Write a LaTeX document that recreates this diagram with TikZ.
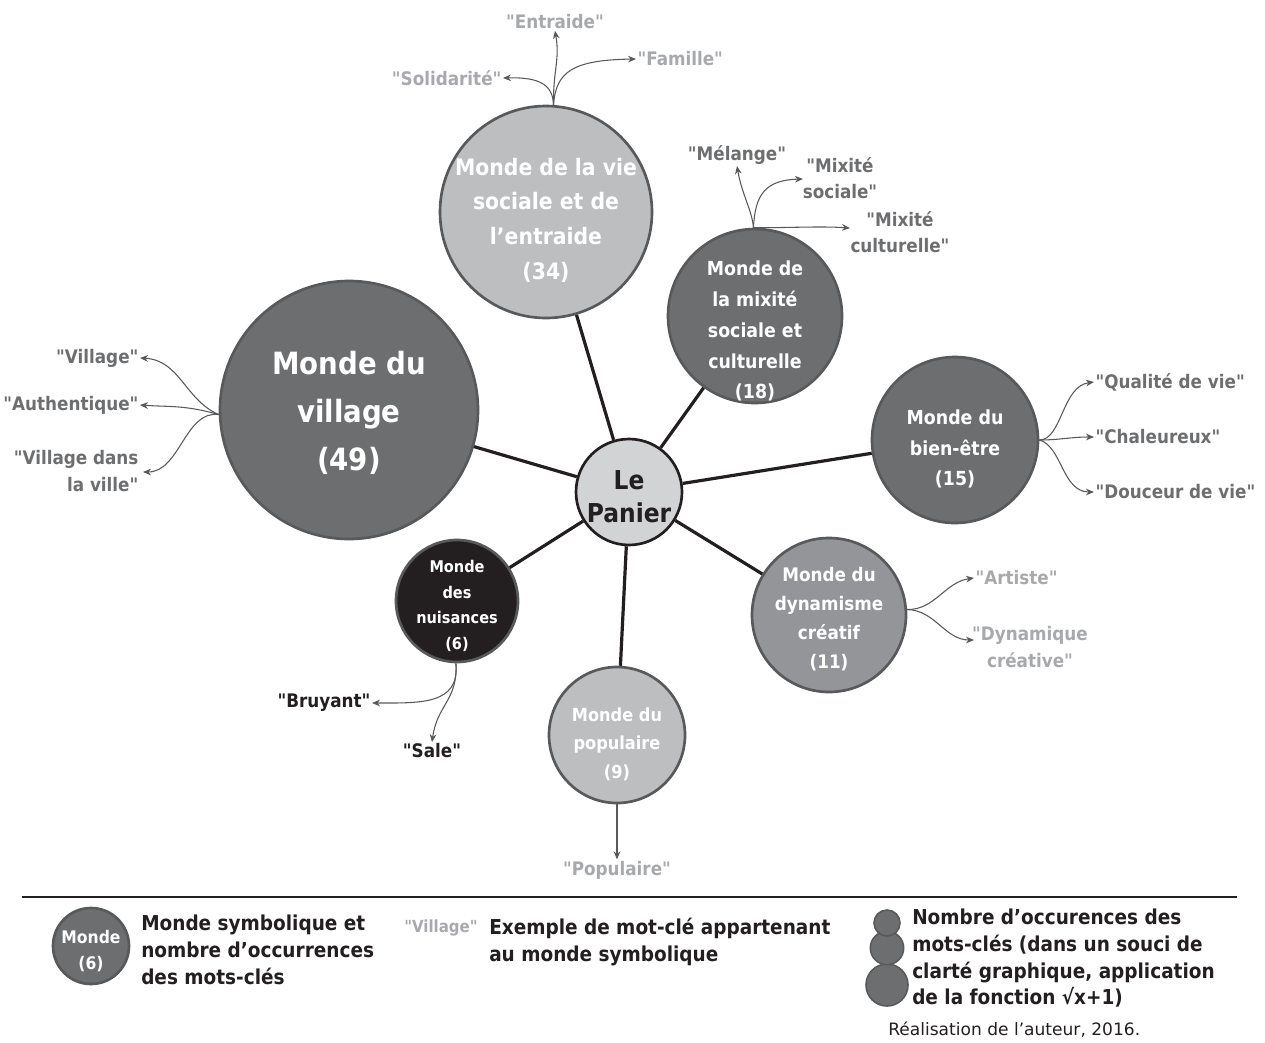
\documentclass[tikz,border=0pt]{standalone}
\usepackage{fontspec}
\setmainfont{DejaVu Sans Condensed}[Ligatures=TeXOff]
\newfontfamily\plainfont{DejaVu Sans}[Ligatures=TeXOff]
\usetikzlibrary{arrows.meta,calc}
\definecolor{darkw}{HTML}{6D6E70}
\definecolor{midw}{HTML}{939598}
\definecolor{lightw}{HTML}{BCBEC0}
\definecolor{panw}{HTML}{D1D3D4}
\definecolor{blackw}{HTML}{231F20}
\definecolor{edgew}{HTML}{58595B}
\definecolor{lightlab}{HTML}{A7A9AC}
\definecolor{darklab}{HTML}{6D6E70}
\definecolor{arrw}{HTML}{58595B}
\begin{document}
\begin{tikzpicture}[x=0.75pt,y=-0.75pt,
  world/.style={circle,draw=edgew,line width=2pt,inner sep=0pt},
  wtext/.style={text=white,align=center,inner sep=0pt},
  spoke/.style={draw=blackw,line width=2.4pt},
  kw/.style={draw=arrw,line width=0.8pt,-{Stealth[length=6pt,width=5pt]}},
  lablight/.style={text=lightlab,font=\fontsize{14}{20}\selectfont\bfseries,align=center,inner sep=1pt},
  labdark/.style={text=darklab,font=\fontsize{14}{20}\selectfont\bfseries,align=center,inner sep=1pt},
  labblack/.style={text=blackw,font=\fontsize{14}{20}\selectfont\bfseries,align=center,inner sep=1pt},
  legtext/.style={text=blackw,font=\fontsize{15.4}{20}\selectfont\bfseries,align=left,anchor=north west,inner sep=0pt}
]
\useasboundingbox (0,0) rectangle (1265,1043);

% worlds
\node[world,fill=panw,draw=blackw,minimum size=79.5pt] (pan) at (629,492) {};
\node[world,fill=darkw,minimum size=193.5pt] (vil) at (349,410) {};
\node[world,fill=lightw,minimum size=159pt] (vie) at (546,212) {};
\node[world,fill=darkw,minimum size=130.5pt] (mix) at (755,316) {};
\node[world,fill=darkw,minimum size=124.5pt] (bien) at (955,440) {};
\node[world,fill=midw,minimum size=115.5pt] (dyn) at (829,615) {};
\node[world,fill=lightw,minimum size=102pt] (pop) at (617,735) {};
\node[world,fill=blackw,minimum size=91.5pt] (nui) at (457,601) {};

\node[wtext,text=blackw,font=\fontsize{19.5}{25}\selectfont\bfseries] (pant) at ($(pan.center)+(0,5)$) {Le\\Panier};
\node[wtext,font=\fontsize{23}{36}\selectfont\bfseries] (vilt) at ($(vil.center)+(0,3)$) {Monde du\\village\\(49)};
\node[wtext,font=\fontsize{17}{26}\selectfont\bfseries] (viet) at ($(vie.center)+(0,8)$) {Monde de la vie\\sociale et de\\l’entraide\\(34)};
\node[wtext,font=\fontsize{14.5}{23.2}\selectfont\bfseries] (mixt) at ($(mix.center)+(0,15)$) {Monde de\\la mixité\\sociale et\\culturelle\\(18)};
\node[wtext,font=\fontsize{14.5}{22.8}\selectfont\bfseries] (bient) at ($(bien.center)+(0,9)$) {Monde du\\bien-être\\(15)};
\node[wtext,font=\fontsize{14}{21.7}\selectfont\bfseries] (dynt) at ($(dyn.center)+(0,4)$) {Monde du\\dynamisme\\créatif\\(11)};
\node[wtext,font=\fontsize{13.5}{21.3}\selectfont\bfseries] (popt) at ($(pop.center)+(0,9)$) {Monde du\\populaire\\(9)};
\node[wtext,font=\fontsize{12.1}{19.2}\selectfont\bfseries] (nuit) at ($(nui.center)+(0,5)$) {Monde\\des\\nuisances\\(6)};

% spokes
\foreach \w in {vil,vie,mix,bien,dyn,pop,nui} \draw[spoke] (pan) -- (\w);

% vie sociale keywords
\node[lablight] (ent) at (555,22) {"Entraide"};
\node[lablight,anchor=west] (fam) at (636,59) {"Famille"};
\node[lablight,anchor=east] (sol) at (503,78) {"Solidarité"};
\coordinate (vo) at (vie.86);
\draw[kw] (vo) .. controls (553,70) and (560,60) .. (ent.south);
\draw[kw] (vo) .. controls (556,72) and (572,60) .. (fam.west);
\draw[kw] (vo) .. controls (553,85) and (540,77) .. (sol.east);

% mixite keywords
\node[labdark] (mel) at (737,155) {"Mélange"};
\node[labdark] (mixs) at (840,178) {"Mixité\\sociale"};
\node[labdark] (mixc) at (900,232) {"Mixité\\culturelle"};
\coordinate (mo) at (mix.91);
\coordinate (mst) at (803,179);
\coordinate (mct) at (850,228);
\draw[kw] (mo) .. controls (752,210) and (742,195) .. (mel.south);
\draw[kw] (mo) .. controls (755,195) and (765,180) .. (mst);
\draw[kw] (mo) .. controls (785,228) and (820,226) .. (mct);

% village keywords
\node[labdark,anchor=east] (kv1) at (140,358) {"Village"};
\node[labdark,anchor=east] (kv2) at (140,405) {"Authentique"};
\node[labdark,anchor=north east,align=right] (kv3) at (140,449) {"Village dans\\la ville"};
\coordinate (vlo) at (vil.182);
\coordinate (kv3t) at (143,472);
\draw[kw] (vlo) .. controls (185,400) and (180,360) .. (kv1.east);
\draw[kw] (vlo) .. controls (185,405) and (170,407) .. (kv2.east);
\draw[kw] (vlo) .. controls (185,410) and (180,472) .. (kv3t);

% bien-etre keywords
\node[labdark,anchor=west] (kb1) at (1094,382) {"Qualité de vie"};
\node[labdark,anchor=west] (kb2) at (1094,437) {"Chaleureux"};
\node[labdark,anchor=west] (kb3) at (1094,492) {"Douceur de vie"};
\coordinate (bo) at (bien.0);
\draw[kw] (bo) .. controls (1062,440) and (1062,386) .. (kb1.west);
\draw[kw] (bo) .. controls (1060,440) and (1070,437) .. (kb2.west);
\draw[kw] (bo) .. controls (1062,446) and (1062,492) .. (kb3.west);

% dynamisme keywords
\node[lablight,anchor=west] (kd1) at (974,578) {"Artiste"};
\node[lablight] (kd2) at (1030,647) {"Dynamique\\créative"};
\coordinate (do) at (dyn.4);
\coordinate (kd2t) at (974,640);
\draw[kw] (do) .. controls (935,610) and (945,582) .. (kd1.west);
\draw[kw] (do) .. controls (935,610) and (945,640) .. (kd2t);

% nuisances keywords
\node[labblack,anchor=east] (kn1) at (372,703) {"Bruyant"};
\node[labblack] (kn2) at (432,751) {"Sale"};
\coordinate (no) at (nui.269);
\draw[kw] (no) .. controls (460,705) and (420,703) .. (kn1.east);
\draw[kw] (no) .. controls (458,700) and (437,705) .. (kn2.north);

% populaire keyword
\node[lablight] (kp) at (617,870) {"Populaire"};
\draw[kw] (pop.south) -- (kp.north);

% legend
\coordinate (l1) at (22,897);
\coordinate (l2) at (1237,897);
\draw[draw=blackw,line width=1.4pt] (l1) -- (l2);
\node[world,fill=darkw,minimum size=57pt] (lg) at (91,946) {};
\node[wtext,font=\fontsize{13}{19.5}\selectfont\bfseries] (lgtx) at ($(lg.center)+(0,5)$) {Monde\\(6)};
\node[legtext] (lgt1) at (141,915) {Monde symbolique et\\nombre d’occurrences\\des mots-clés};
\node[text=lightlab,font=\fontsize{12.5}{19}\selectfont\bfseries,anchor=north west,inner sep=0pt] (lgv) at (404,920) {"Village"};
\node[legtext] (lgt2) at (489,918) {Exemple de mot-clé appartenant\\au monde symbolique};
\node[circle,fill=darkw,draw=edgew,line width=1.2pt,minimum size=31.5pt,inner sep=0pt] (c3) at (887,985) {};
\node[circle,fill=darkw,draw=edgew,line width=1.2pt,minimum size=25pt,inner sep=0pt] (c2) at (887,948) {};
\node[circle,fill=darkw,draw=edgew,line width=1.2pt,minimum size=19.5pt,inner sep=0pt] (c1) at (887,923) {};
\node[legtext] (lgt3) at (912,909) {Nombre d’occurences des\\mots-clés (dans un souci de\\clarté graphique, application\\de la fonction √x+1)};
\node[text=blackw,font=\plainfont\fontsize{12.8}{16}\selectfont,anchor=north west,inner sep=0pt] (src) at (888,1022) {Réalisation de l’auteur, 2016.};
\end{tikzpicture}
\end{document}
